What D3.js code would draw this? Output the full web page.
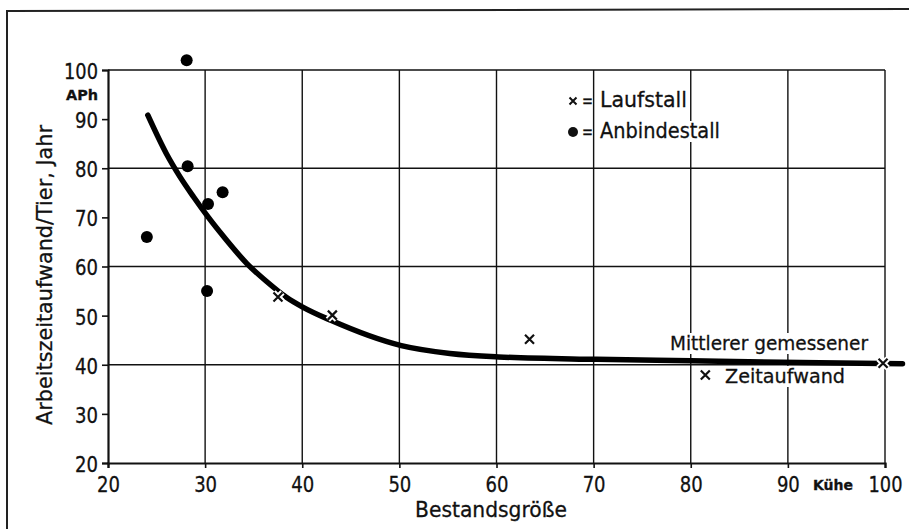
<html>
<head>
<meta charset="utf-8">
<style>
  body { margin: 0; background: #fff; }
  svg text { font-family: "DejaVu Sans", sans-serif; fill: #111; }
</style>
</head>
<body>
<svg></svg>
<script src="https://d3js.org/d3.v7.min.js"></script>
<script>
const width = 909;
const height = 529;
const margin = ({top: 70, right: 24, bottom: 66, left: 108});

// Anbindestall (dots)
const anbindeX = [24.0, 28.1, 28.2, 30.3, 31.8, 30.2];
const anbindeY = [66.0, 102.0, 80.4, 72.7, 75.1, 55.0];
// Laufstall (crosses)
const laufX = [37.5, 43.1, 63.4, 81.5, 99.8];
const laufY = [53.8, 50.1, 45.2, 37.9, 40.3];
// mean measured time curve
const curveX = [24.1, 26.0, 27.4, 28.8, 30.3, 31.9, 34.3, 36.3, 38.4, 40.0, 43.0, 50.2, 55.2, 60.2, 70.3, 80.0, 93.3, 101.8];
const curveY = [90.8, 83.0, 78.3, 74.2, 70.1, 66.1, 60.6, 57.0, 53.7, 51.8, 49.0, 43.9, 42.3, 41.6, 41.1, 40.8, 40.4, 40.2];

const xTicks = [20, 30, 40, 50, 60, 70, 80, 90, 100];
const yTicks = [20, 30, 40, 50, 60, 70, 80, 90, 100];
const yGrid = [20, 40, 60, 80, 100];

const svg = d3.select("svg")
    .attr("width", width)
    .attr("height", height);

const x = d3.scaleLinear()
    .domain([20, 100])
    .range([margin.left, width - margin.right]);
const y = d3.scaleLinear()
    .domain([20, 100])
    .range([height - margin.bottom, margin.top]);

// outer frame of the scanned figure
svg.append("path")
    .attr("d", "M7,529 L7,11 L909,9")
    .attr("fill", "none")
    .attr("stroke", "#222")
    .attr("stroke-width", 2);

// grid
svg.append("g").selectAll("line")
    .data(xTicks.slice(1))
    .join("line")
    .attr("x1", d => x(d)).attr("x2", d => x(d))
    .attr("y1", y(100)).attr("y2", y(20))
    .attr("stroke", "#111").attr("stroke-width", 1.4);
svg.append("g").selectAll("line")
    .data(yGrid.slice(1))
    .join("line")
    .attr("x1", x(20)).attr("x2", x(100))
    .attr("y1", d => y(d)).attr("y2", d => y(d))
    .attr("stroke", "#111").attr("stroke-width", 1.4);

// axes
const yAxis = d3.axisLeft(y).tickValues(yTicks).tickSize(6).tickFormat(d3.format("d")).tickPadding(4);
const gy = svg.append("g")
    .attr("transform", `translate(${x(20)},0)`)
    .call(yAxis);
const xAxis = d3.axisBottom(x).tickValues(xTicks).tickSize(5).tickFormat(d3.format("d")).tickPadding(9);
const gx = svg.append("g")
    .attr("transform", `translate(0,${y(20)})`)
    .call(xAxis);

[gx, gy].forEach(g => {
    g.select(".domain").attr("stroke", "#111").attr("stroke-width", 2.2);
    g.selectAll(".tick line").attr("stroke", "#111").attr("stroke-width", 1.6);
    g.selectAll(".tick text").attr("font-size", 21).attr("fill", "#111")
        .attr("stroke", "#111").attr("stroke-width", 0.3)
        .attr("textLength", d => d == 100 ? 34 : 23).attr("lengthAdjust", "spacingAndGlyphs")
        .style("font-family", '"DejaVu Sans", sans-serif');
});
gy.selectAll(".tick text").attr("dy", "0.4em");

// fitted text helper (glyphs squeezed to the measured width)
function txt(tx, ty, str, size, len, anchor) {
    return svg.append("text").attr("x", tx).attr("y", ty)
        .attr("font-size", size).attr("text-anchor", anchor || "start")
        .attr("textLength", len).attr("lengthAdjust", "spacingAndGlyphs")
        .attr("stroke", "#111").attr("stroke-width", 0.3)
        .text(str);
}

// units
txt(98, 100, "APh", 14, 32, "end").attr("font-weight", "bold");
txt(833, 490, "Kühe", 14, 40, "middle").attr("font-weight", "bold");

// axis titles
txt(491, 517, "Bestandsgröße", 21, 152, "middle");
svg.append("g")
    .attr("transform", "translate(52,275) rotate(-90)")
    .append("text")
    .attr("text-anchor", "middle")
    .attr("font-size", 21)
    .attr("textLength", 300).attr("lengthAdjust", "spacingAndGlyphs")
    .attr("stroke", "#111").attr("stroke-width", 0.3)
    .text("Arbeitszeitaufwand/Tier, Jahr");

// text with white patches that break the grid behind it
function label(tx, ty, str, size, len) {
    const t = txt(tx, ty, str, size, len);
    const b = t.node().getBBox();
    svg.insert("rect", () => t.node())
        .attr("x", b.x - 3).attr("y", b.y + 2).attr("width", b.width + 6).attr("height", b.height - 3)
        .attr("fill", "#fff");
    return t;
}

// legend
label(600, 107, "Laufstall", 21, 87);
label(600, 138, "Anbindestall", 21, 120);
txt(582, 107, "=", 20, 11);
txt(582, 138, "=", 20, 11);
const cross = (g, cx, cy, s, w) => {
    g.append("path")
        .attr("d", `M${cx - s},${cy - s}L${cx + s},${cy + s}M${cx - s},${cy + s}L${cx + s},${cy - s}`)
        .attr("stroke", "#111").attr("stroke-width", w).attr("fill", "none");
};
cross(svg, 573, 101, 3.5, 2);
svg.append("circle").attr("cx", 573).attr("cy", 132).attr("r", 5).attr("fill", "#111");

// curve annotation
label(670, 350, "Mittlerer gemessener", 20, 198);
label(725, 383, "Zeitaufwand", 20, 120);

// curve
const line = d3.line().x(d => x(d[0])).y(d => y(d[1])).curve(d3.curveMonotoneX);
svg.append("path")
    .datum(d3.zip(curveX, curveY))
    .attr("d", line)
    .attr("fill", "none")
    .attr("stroke", "#000")
    .attr("stroke-width", 5.5)
    .attr("stroke-linecap", "round");

// points
svg.append("g").selectAll("circle")
    .data(d3.zip(anbindeX, anbindeY))
    .join("circle")
    .attr("cx", d => x(d[0])).attr("cy", d => y(d[1]))
    .attr("r", 6).attr("fill", "#000");

const gl = svg.append("g");
d3.zip(laufX, laufY).forEach(d => {
    const s = 4.5;
    gl.append("path")
        .attr("d", `M${x(d[0]) - s},${y(d[1]) - s}L${x(d[0]) + s},${y(d[1]) + s}M${x(d[0]) - s},${y(d[1]) + s}L${x(d[0]) + s},${y(d[1]) - s}`)
        .attr("stroke", "#fff").attr("stroke-width", 6).attr("fill", "none");
    cross(gl, x(d[0]), y(d[1]), s, 2.2);
});
</script>
</body>
</html>
